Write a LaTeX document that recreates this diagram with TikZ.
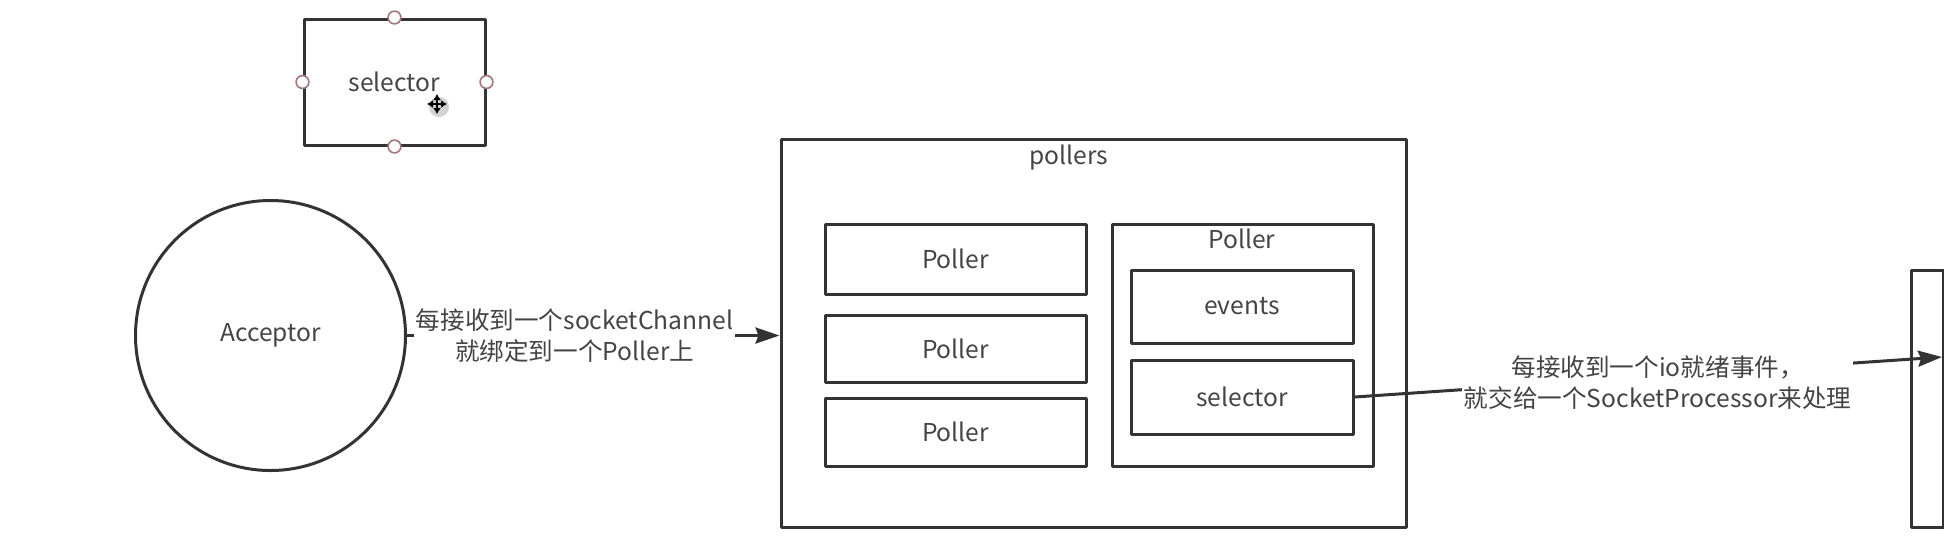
\documentclass[tikz,border=0pt]{standalone}
\usepackage{fontspec}
\setmainfont{Noto Sans CJK SC}
\usetikzlibrary{arrows.meta}
\definecolor{linegray}{HTML}{333333}
\definecolor{textgray}{HTML}{444444}
\definecolor{handlered}{HTML}{A07878}
\tikzset{
  box/.style={draw=linegray, line width=1.5pt, inner sep=0pt, text=textgray},
  conn/.style={draw=linegray, line width=1.5pt, -{Stealth[length=12pt,width=8pt,inset=1.5pt]}},
  msg/.style={fill=white, inner sep=1pt, align=center, text=textgray}
}
\begin{document}
\begin{tikzpicture}[x=0.5pt,y=-0.5pt,font=\fontsize{12.3}{15.5}\selectfont,line join=round]
\useasboundingbox (0,0) rectangle (1944,538);
% selector being dragged
\node[box, minimum width=90.5pt, minimum height=63pt] (selA) at (394.5,82) {selector};
\foreach \side in {north,south,east,west}
  \draw[handlered, fill=white, line width=0.8pt] (selA.\side) circle (3.2pt);
\fill[gray!35] (439,107) circle (5pt);
\draw[line width=1.3pt, {Latex[length=3pt,width=4pt]}-{Latex[length=3pt,width=4pt]}] (427,104) -- (447,104);
\draw[line width=1.3pt, {Latex[length=3pt,width=4pt]}-{Latex[length=3pt,width=4pt]}] (437,94) -- (437,114);
% acceptor and pollers
\node[box, circle, minimum size=135pt] (acc) at (270.5,335.5) {Acceptor};
\node[box, minimum width=312.5pt, minimum height=194pt] (pollers) at (1093.5,333) {};
\node[text=textgray] (pollersT) at (1069,158) {pollers};
\foreach \i/\y/\h in {1/259/35, 2/348.5/33.5, 3/432/34}
  \node[box, minimum width=130.5pt, minimum height=\h pt] (p\i) at (955.5,\y) {Poller};
\node[box, minimum width=130.5pt, minimum height=121pt] (pR) at (1242.5,345) {};
\node[text=textgray] (pRT) at (1242,239) {Poller};
\node[box, minimum width=111pt, minimum height=36.5pt] (ev) at (1242,306.5) {events};
\node[box, minimum width=111pt, minimum height=37pt] (selB) at (1242,397) {selector};
% processor, cut off at the edge
\node[box, minimum width=16pt, minimum height=128.5pt] (proc) at (1927,398.5) {};
\coordinate (procIn) at (1942,357);
% connectors
\draw[conn] (acc.east) -- node[msg, pos=0.45] {每接收到一个socketChannel\\就绑定到一个Poller上} (acc.east -| pollers.west);
\draw[conn] (selB.east) -- node[msg, pos=0.516, yshift=-3pt] {每接收到一个io就绪事件，\\就交给一个SocketProcessor来处理} (procIn);
\end{tikzpicture}
\end{document}
